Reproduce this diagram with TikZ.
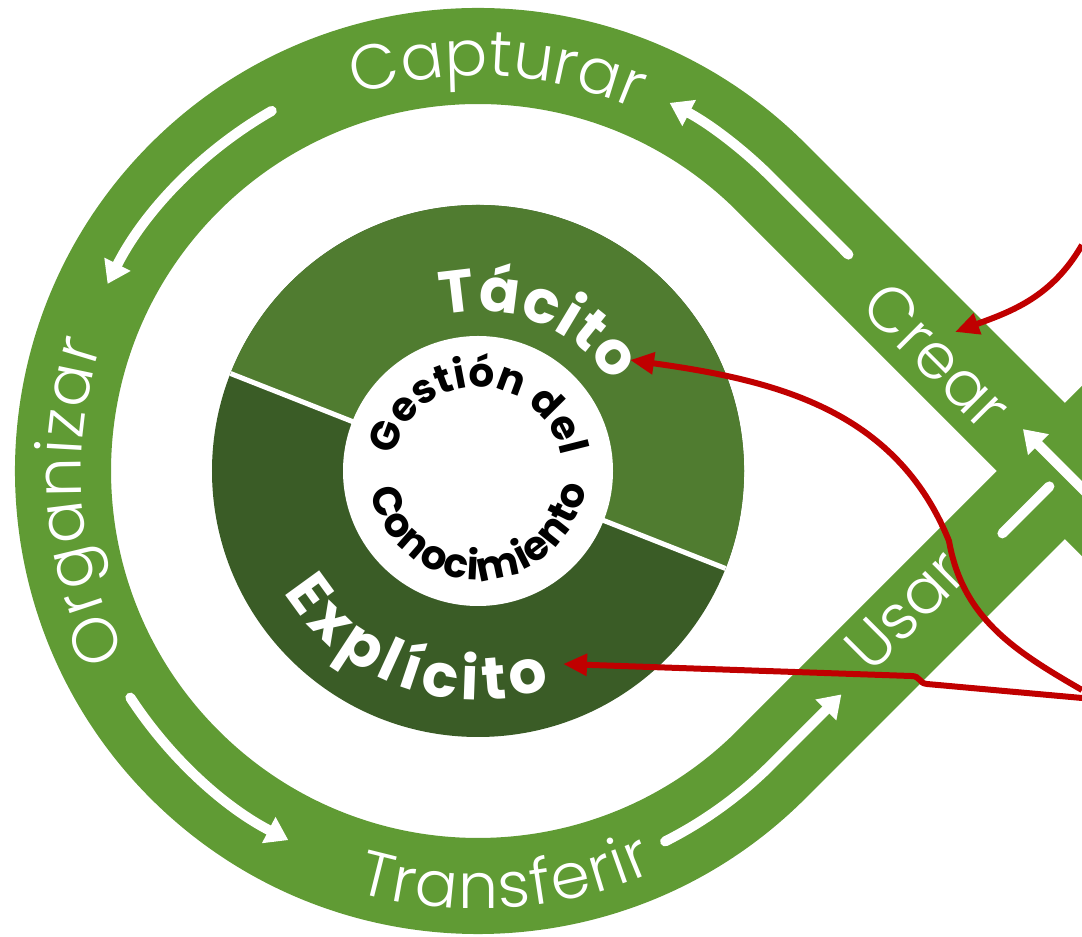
\documentclass[tikz,border=0pt]{standalone}
\usepackage{fontspec}
\setmainfont{Poppins}
\newfontfamily\lightfont{Poppins Light}
\usetikzlibrary{arrows.meta, decorations.text}

\definecolor{bandgreen}{RGB}{96,155,52}
\definecolor{tacitogreen}{RGB}{80,124,48}
\definecolor{explicitogreen}{RGB}{58,92,38}
\definecolor{pointerred}{RGB}{192,0,0}

\newcommand{\bandfont}{\lightfont\fontsize{18}{20}\selectfont}
\newcommand{\kindfont}{\bfseries\fontsize{17}{19}\selectfont}
\newcommand{\corefont}{\bfseries\fontsize{11.5}{13}\selectfont}

\begin{document}
\begin{tikzpicture}[x = 0.01cm, y = 0.01cm,
  band/.style = {draw = bandgreen, line width = 0.96cm},
  flowline/.style = {draw = white, line width = 0.1cm, line cap = round},
  flow/.style = {flowline, -{Triangle[length = 0.22cm, width = 0.28cm]}},
  pointer/.style = {draw = pointerred, line width = 0.06cm, -{Triangle[length = 0.24cm, width = 0.21cm]}},
  roadlabel/.style = {text = white, font = \bandfont, inner sep = 0pt, anchor = base},
  bandlabel/.style = {decorate, decoration = {text along path, text align = fit to path, text color = white, text = {|\bandfont|#1}}},
  kindlabel/.style = {decorate, decoration = {text along path, text align = fit to path, text color = white, text = {|\kindfont|#1}}},
  corelabel/.style = {decorate, decoration = {text along path, text align = fit to path, text color = black, text = {|\corefont|#1}}}]
  \useasboundingbox (-478,-466) rectangle (604,471);
  \clip (-478,-466) rectangle (604,471);

  % the loop
  \draw[band] (743.4,-156.6) -- (45:415) arc[start angle = 45, end angle = 315, radius = 415] -- (743.4,156.6);

  % knowledge disc
  \fill[explicitogreen] (0,0) circle[radius = 266];
  \fill[tacitogreen] (0,0) -- (-21.5:266) arc[start angle = -21.5, end angle = 158.5, radius = 266] -- cycle;
  \draw[white, line width = 0.05cm] (158.5:266) -- (-21.5:266);
  \fill[white] (0,0) circle[radius = 135];

  % flow arrows
  \draw[flow] (370.4,216.4) -- (45:415) arc[start angle = 45, end angle = 62.5, radius = 415];
  \draw[flow] (119.8:415) arc[start angle = 119.8, end angle = 153.2, radius = 415];
  \draw[flow] (213.1:415) arc[start angle = 213.1, end angle = 242.8, radius = 415];
  \draw[flow] (-63.2:415) arc[start angle = -63.2, end angle = -45, radius = 415] -- (363.4,-223.4);
  \draw[flowline] (524.4,-62.4) -- (571.4,-15.4);
  \draw[flow] (643.4,-56.6) -- (544.9,41.9);

  % band labels
  \path[bandlabel = Capturar] (108:395) arc[start angle = 108, end angle = 66.5, radius = 395];
  \path[bandlabel = Organizar] (207.5:397) arc[start angle = 207.5, end angle = 161.5, radius = 397];
  \path[bandlabel = Transferir] (253.9:438) arc[start angle = 253.9, end angle = 293.8, radius = 438];
  \node (crear) [roadlabel, rotate = -45] at (443,100) {Crear};
  \node (usar) [roadlabel, rotate = 45] at (442.5,-154.5) {Usar};

  % disc labels
  \path[kindlabel = Tácito] (103:160) arc[start angle = 103, end angle = 33, radius = 160];
  \path[kindlabel = Explícito] (212:229) arc[start angle = 212, end angle = 288.5, radius = 229];
  \path[corelabel = Gestión del] (170:84) arc[start angle = 170, end angle = 10, radius = 84];
  \path[corelabel = Conocimiento] (190.5:109) arc[start angle = 190.5, end angle = 352, radius = 109];

  % pointers
  \coordinate (crearFrom) at (604,226);
  \coordinate (crearTip) at (477,139);
  \coordinate (tacitoFrom) at (604,-219);
  \coordinate (tacitoBend) at (471,-70);
  \coordinate (tacitoTip) at (152,111);
  \coordinate (explicitoFrom) at (604,-227);
  \coordinate (explicitoTip) at (85,-193);

  \draw[pointer] (crearFrom) to[out = 240, in = 20] (crearTip);
  \draw[pointer] (tacitoFrom) to[out = 150, in = -80] (tacitoBend) to[out = 112, in = -8] (tacitoTip);
  \draw[pointer] (explicitoFrom) -- (449,-213) .. controls (440,-212) and (443,-205) .. (433,-205) -- (explicitoTip);
\end{tikzpicture}
\end{document}
